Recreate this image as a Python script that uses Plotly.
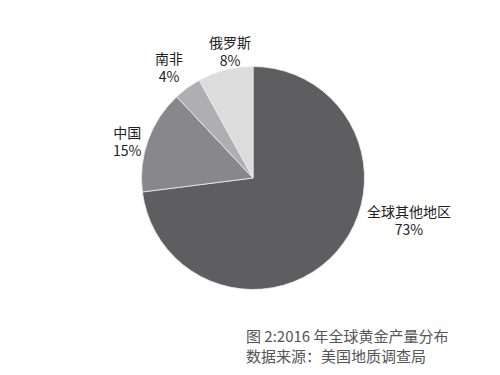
import plotly.graph_objects as go

labels = ["全球其他地区", "中国", "南非", "俄罗斯"]
values = [73, 15, 4, 8]
colors = ["#5e5e60", "#88888a", "#afafb1", "#dcdcdc"]
caption_lines = ["图 2:2016 年全球黄金产量分布", "数据来源：美国地质调查局"]

# label anchor positions (pixels, from top-left), layout only
label_pos = [(409, 220), (127, 141), (169, 67), (230, 51)]

W, H = 500, 375
cx, cy, r = 253, 178, 111.5

fig = go.Figure(go.Pie(
    labels=labels,
    values=values,
    sort=False,
    direction="clockwise",
    rotation=0,
    marker=dict(colors=colors, line=dict(color="#eeeeee", width=0.8)),
    textinfo="none",
    showlegend=False,
    hoverinfo="label+percent",
    domain=dict(x=[(cx - r) / W, (cx + r) / W],
                y=[1 - (cy + r) / H, 1 - (cy - r) / H]),
))

total = sum(values)
for lab, val, (px, py) in zip(labels, values, label_pos):
    fig.add_annotation(
        text=f"{lab}<br>{round(val / total * 100)}%",
        x=px / W, y=1 - py / H, xref="paper", yref="paper",
        showarrow=False, xanchor="center", yanchor="middle", align="center",
        font=dict(family="Noto Sans CJK SC", size=14, color="#222222"),
    )

fig.add_annotation(
    text="<br>".join(caption_lines),
    x=244 / W, y=1 - 345 / H, xref="paper", yref="paper",
    showarrow=False, align="left", xanchor="left", yanchor="middle",
    font=dict(family="Noto Sans CJK SC", size=15, color="#555555"),
)

fig.update_layout(
    width=W, height=H,
    margin=dict(l=0, r=0, t=0, b=0),
    paper_bgcolor="white",
    plot_bgcolor="white",
)

fig.write_html("out.html", config={"displayModeBar": False},
               post_script="document.body.style.margin='0';")
